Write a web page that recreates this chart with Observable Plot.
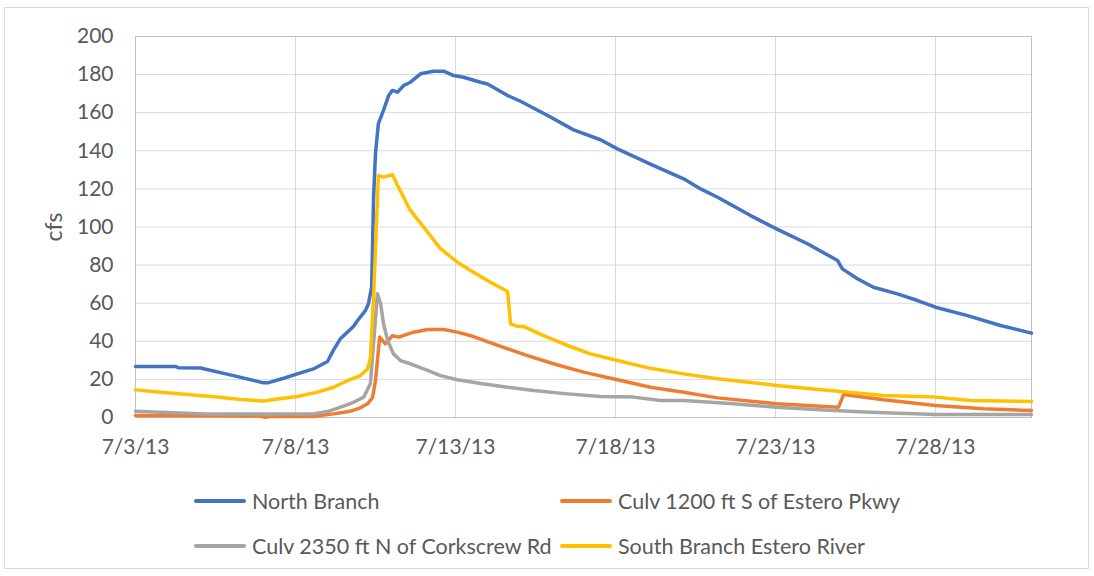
<!DOCTYPE html>
<html><head><meta charset="utf-8">
<script src="https://cdn.jsdelivr.net/npm/d3@7"></script>
<script src="https://cdn.jsdelivr.net/npm/@observablehq/plot@0.6"></script>
<style>
body{margin:0;background:#fff;font-family:Lato,sans-serif;}
#wrap{position:relative;width:1094px;height:576px;overflow:hidden;background:#fff;}
#border{position:absolute;left:4px;top:7px;width:1085px;height:562px;border:1px solid #d9d9d9;box-sizing:border-box;}
#chart{position:absolute;left:0;top:0;}
.leg{position:absolute;display:flex;align-items:center;font-size:21.5px;line-height:26px;color:#595959;white-space:nowrap;}
.sw{width:52px;height:4px;border-radius:2px;margin-right:6px;}
</style></head>
<body>
<div id="wrap"><div id="border"></div><div id="chart"></div><div id="legend"></div></div>
<script>
// day-of-month (July 2013, fractional) , cfs
const northBranch = [[3.00,26.8],[4.25,26.8],[4.34,26.1],[5.03,26.0],[6.06,22.0],[7.00,18.2],[7.13,18.2],[7.63,20.6],[8.06,22.9],[8.56,25.5],[9.00,29.4],[9.19,35.5],[9.41,41.5],[9.81,47.8],[9.94,50.9],[10.19,56.2],[10.28,59.8],[10.38,68.4],[10.44,115.6],[10.50,138.6],[10.59,154.3],[10.75,161.2],[10.91,169.0],[11.03,171.7],[11.19,170.8],[11.38,174.3],[11.59,176.0],[11.91,180.4],[12.31,181.8],[12.63,181.8],[12.94,179.5],[13.25,178.6],[13.78,176.0],[14.00,175.1],[14.63,169.0],[15.03,166.0],[15.88,158.5],[16.69,151.0],[17.53,145.8],[18.06,141.0],[19.09,133.0],[20.13,125.3],[20.66,120.0],[21.19,115.6],[22.22,106.0],[23.03,99.0],[24.00,91.2],[24.94,82.4],[25.09,78.0],[25.56,72.8],[26.06,68.4],[26.81,64.9],[27.44,61.4],[28.00,57.9],[29.00,53.5],[30.03,48.3],[31.00,44.3]];
const culv1200 = [[3.00,1.0],[6.90,0.8],[7.05,0.1],[7.25,0.6],[8.56,0.5],[9.19,1.9],[9.72,3.3],[10.03,5.1],[10.25,7.2],[10.41,10.5],[10.50,19.4],[10.56,29.9],[10.63,42.2],[10.81,38.7],[11.03,43.0],[11.22,42.2],[11.69,44.8],[12.13,46.2],[12.63,46.2],[13.06,44.8],[13.56,42.5],[14.41,37.3],[15.25,32.5],[16.06,28.2],[17.00,23.8],[18.06,19.8],[19.09,15.9],[20.13,13.3],[21.19,10.3],[23.03,7.2],[24.97,5.4],[25.13,12.1],[26.38,9.3],[28.00,6.3],[29.50,4.6],[31.00,3.7]];
const culv2350 = [[3.00,3.3],[3.78,2.8],[5.22,1.9],[8.56,1.9],[9.00,3.1],[9.41,5.4],[9.81,8.0],[10.13,10.7],[10.34,17.7],[10.56,64.9],[10.66,59.7],[10.75,49.2],[10.88,40.4],[11.06,33.4],[11.28,29.9],[11.59,28.2],[12.13,24.7],[12.53,22.0],[13.06,19.8],[13.84,17.7],[14.63,15.9],[15.44,14.2],[16.50,12.4],[17.53,11.0],[18.56,10.7],[19.41,8.9],[20.13,8.9],[21.69,7.2],[23.03,5.4],[24.81,3.7],[25.97,2.8],[28.00,1.6],[31.00,1.6]];
const southBranch = [[3.00,14.5],[3.78,13.3],[4.63,12.1],[5.56,10.7],[6.28,9.4],[7.00,8.6],[7.31,9.4],[8.06,11.0],[8.69,13.3],[9.19,15.9],[9.63,19.4],[10.03,22.0],[10.25,25.5],[10.34,31.0],[10.44,63.2],[10.59,127.0],[10.75,126.2],[11.03,127.4],[11.19,121.8],[11.59,108.7],[12.13,97.3],[12.53,88.6],[13.06,81.5],[13.56,76.3],[14.09,71.0],[14.63,66.1],[14.72,49.2],[14.94,47.8],[15.13,47.8],[15.75,43.0],[16.50,37.8],[17.22,33.4],[18.06,29.9],[19.09,25.8],[20.13,22.9],[21.19,20.3],[23.03,16.8],[24.94,13.8],[26.38,11.5],[28.00,10.7],[29.09,8.9],[31.00,8.4]];

const seriesNames = ["North Branch","Culv 1200 ft S of Estero Pkwy","Culv 2350 ft N of Corkscrew Rd","South Branch Estero River"];
const seriesColors = ["#4472C4","#ED7D31","#A5A5A5","#FFC000"];
const xTickDays = [3,8,13,18,23,28];
const xTickLabels = ["7/3/13","7/8/13","7/13/13","7/18/13","7/23/13","7/28/13"];
const yTicks = [0,20,40,60,80,100,120,140,160,180,200];
const yLabel = "cfs";

const toDate = d => new Date(Date.UTC(2013,6,1) + (d-1)*864e5);
const rows = [];
[northBranch, culv1200, culv2350, southBranch].forEach((s,i)=> s.forEach(([d,v])=>rows.push({t:toDate(d), v, s:seriesNames[i]})));
const xTickDates = xTickDays.map(toDate);

const chart = Plot.plot({
  width:1094, height:467, marginLeft:135, marginRight:63, marginTop:36, marginBottom:50,
  style:{fontFamily:"Lato, sans-serif", fontSize:"21px", color:"#595959", background:"transparent", overflow:"visible"},
  x:{type:"utc", domain:[toDate(3), toDate(31)]},
  y:{domain:[0,200]},
  color:{domain:seriesNames, range:seriesColors},
  marks:[
    Plot.gridY(yTicks,{stroke:"#d9d9d9", strokeOpacity:1, strokeWidth:1}),
    Plot.gridX(xTickDates,{stroke:"#d9d9d9", strokeOpacity:1, strokeWidth:1}),
    Plot.frame({stroke:"#bfbfbf"}),
    Plot.axisY(yTicks,{tickSize:0, tickPadding:22, label:null, fill:"#595959"}),
    Plot.axisX(xTickDates,{tickSize:0, tickPadding:22, label:null, fill:"#595959",
      tickFormat:d => xTickLabels[xTickDays.indexOf(d.getUTCDate())]}),
    Plot.line(rows,{x:"t", y:"v", z:"s", stroke:"s", strokeWidth:3.5, strokeLinejoin:"round", strokeLinecap:"round"}),
    Plot.text([yLabel],{frameAnchor:"left", textAnchor:"middle", lineAnchor:"middle", dx:-81, rotate:-90, fill:"#595959", fontSize:23})
  ]
});
document.getElementById("chart").appendChild(chart);

const legPos = [[194,488],[560,488],[194,533],[560,533]];
const leg = document.getElementById("legend");
seriesNames.forEach((n,i)=>{
  const el = document.createElement("div");
  el.className = "leg";
  el.style.left = legPos[i][0]+"px";
  el.style.top = legPos[i][1]+"px";
  el.innerHTML = `<div class="sw" style="background:${seriesColors[i]}"></div><span>${n}</span>`;
  leg.appendChild(el);
});
</script>
</body></html>
